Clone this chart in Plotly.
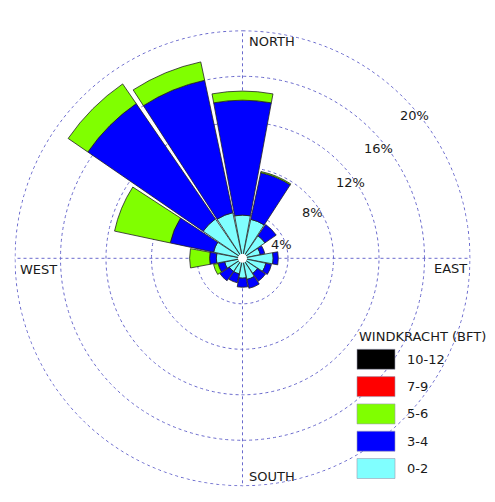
import plotly.graph_objects as go

# ---- data ----
directions = ["N", "NNE", "NE", "ENE", "E", "ESE", "SE", "SSE",
              "S", "SSW", "SW", "WSW", "W", "WNW", "NW", "NNW"]
bft_0_2 = [3.8, 3.5, 2.4, 1.6, 2.7, 2.1, 1.6, 1.9, 1.75, 1.4, 1.4, 1.6, 2.3, 2.6, 4.2, 4.1]
bft_3_4 = [10.1, 4.2, 1.2, 0.4, 0.45, 0.5, 0.85, 0.8, 0.8, 0.8, 1.0, 0.6, 0.6, 3.9, 12.3, 11.9]
bft_5_6 = [0.8, 0.1, 0, 0, 0, 0, 0, 0, 0, 0, 0, 0.4, 1.75, 5.0, 2.1, 1.65]
bft_7_9 = [0] * 16
bft_10_12 = [0] * 16
class_names = ["10-12", "7-9", "5-6", "3-4", "0-2"]
radial_ticks = [4, 8, 12, 16, 20]
compass_labels = ["NORTH", "EAST", "SOUTH", "WEST"]
legend_title = "WINDKRACHT (BFT)"

# ---- styles / layout ----
colors = {"0-2": "#80ffff", "3-4": "#0000ff", "5-6": "#80ff00", "7-9": "#ff0000", "10-12": "#000000"}
series = {"0-2": bft_0_2, "3-4": bft_3_4, "5-6": bft_5_6, "7-9": bft_7_9, "10-12": bft_10_12}
OFF = 8                      # page body margin of the browser
W, H = 495 - OFF, 502 - OFF
CX, CY = 242.5 - OFF, 258.3 - OFF
PX_PER_PCT = 227.5 / 20
RMAX = 20.06
R = PX_PER_PCT * RMAX
FONT = dict(family="DejaVu Sans", size=13, color="#1a1a1a")
GRID = "#6a6acd"

def px(x, y):
    """screen pixel (reference coords) -> paper coords"""
    return (x - OFF) / W, 1 - (y - OFF) / H

theta = [i * 360 / len(directions) for i in range(len(directions))]

fig = go.Figure()

# outer 20% grid ring (the axis edge), drawn dotted like the other rings
ring_theta = list(range(0, 361, 2))
fig.add_trace(go.Scatterpolar(r=[radial_ticks[-1]] * len(ring_theta), theta=ring_theta,
                              mode="lines", line=dict(color=GRID, width=1, dash="dot"),
                              showlegend=False, hoverinfo="skip"))

for name in ["0-2", "3-4", "5-6", "7-9", "10-12"]:
    vals = series[name]
    fig.add_trace(go.Barpolar(
        r=vals, theta=theta, width=21, name=name,
        marker=dict(color=colors[name],
                    line=dict(color="#222222", width=0.8 if any(vals) else 0)),
        showlegend=False, hoverinfo="r+name",
    ))

# white centre dot
fig.add_trace(go.Scatterpolar(r=[0], theta=[0], mode="markers",
                              marker=dict(color="white", size=9, line=dict(width=0)),
                              showlegend=False, hoverinfo="skip"))

fig.update_layout(
    width=W, height=H,
    margin=dict(l=0, r=0, t=0, b=0),
    paper_bgcolor="white",
    font=FONT,
    polar=dict(
        domain=dict(x=[(CX - R) / W, (CX + R) / W], y=[1 - (CY + R) / H, 1 - (CY - R) / H]),
        bgcolor="white",
        barmode="stack",
        radialaxis=dict(range=[0, RMAX], tickvals=radial_ticks[:-1], showticklabels=False,
                        ticks="", showline=False, showgrid=True, gridcolor=GRID,
                        griddash="dot", gridwidth=1, layer="below traces"),
        angularaxis=dict(rotation=90, direction="clockwise", tickvals=[0, 90, 180, 270],
                         showticklabels=False, ticks="", showline=False, showgrid=True,
                         gridcolor=GRID, griddash="dot", gridwidth=1, layer="below traces"),
    ),
)

annotations = []
# compass labels
compass_pos = {"NORTH": (247, 41), "EAST": (432, 268.5), "SOUTH": (247, 476), "WEST": (18, 269)}
for lab in compass_labels:
    x, y = px(*compass_pos[lab])
    annotations.append(dict(text=lab, x=x, y=y, xref="paper", yref="paper",
                            xanchor="left", yanchor="middle", showarrow=False, font=FONT))
# percentage labels
pct_offsets = [(38.5, -13.3), (70, -45.8), (107.5, -75.3), (135.5, -110.3), (171.5, -143.3)]
for t, (dx, dy) in zip(radial_ticks, pct_offsets):
    x, y = px(242.5 + dx, 258.3 + dy)
    annotations.append(dict(text=f"{t}%", x=x, y=y, xref="paper", yref="paper",
                            xanchor="center", yanchor="middle", showarrow=False, font=FONT))

# custom legend
shapes = []
x0, y_title = 357, 336
x, y = px(x0, y_title)
annotations.append(dict(text=legend_title, x=x, y=y, xref="paper", yref="paper",
                        xanchor="left", yanchor="middle", showarrow=False, font=FONT))
top0, step, sw_w, sw_h = 349.3, 27.3, 38, 20
for i, name in enumerate(class_names):
    top = top0 + i * step
    xa, ya = px(x0, top)
    xb, yb = px(x0 + sw_w, top + sw_h)
    shapes.append(dict(type="rect", xref="paper", yref="paper", x0=xa, x1=xb, y0=yb, y1=ya,
                       fillcolor=colors[name], line=dict(color="#9a9ab0", width=0.6)))
    lx, ly = px(x0 + 48, top + sw_h / 2)
    annotations.append(dict(text=name, x=lx, y=ly, xref="paper", yref="paper",
                            xanchor="left", yanchor="middle", showarrow=False, font=FONT))

fig.update_layout(annotations=annotations, shapes=shapes)
fig.write_html("out.html")
